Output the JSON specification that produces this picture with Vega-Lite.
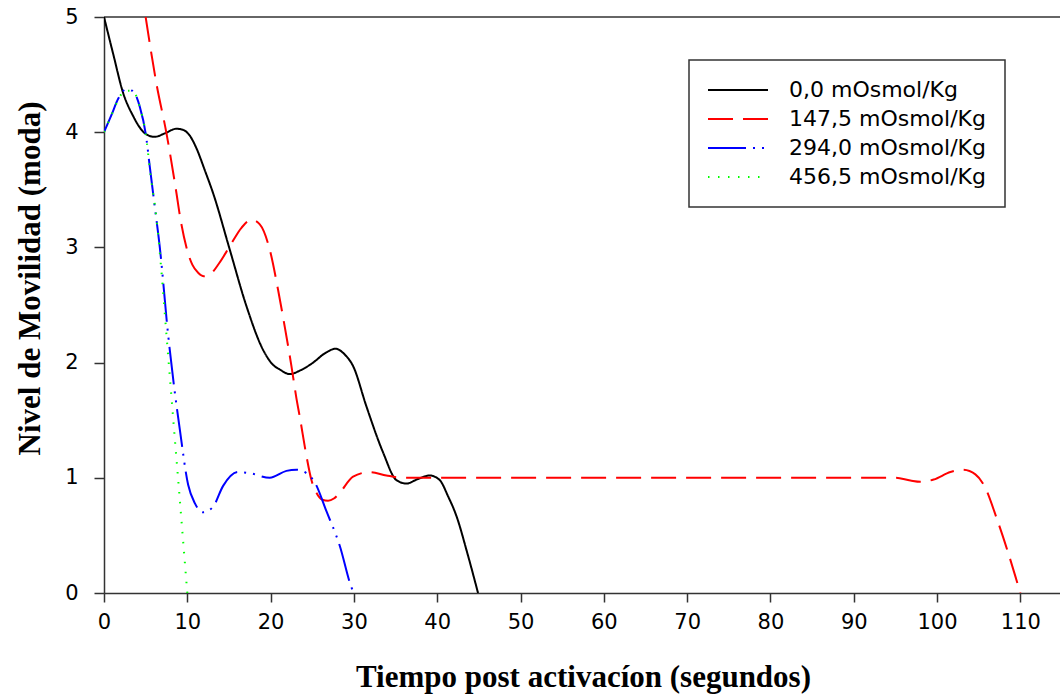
{
  "$schema": "https://vega.github.io/schema/vega-lite/v6.json",
  "width": 958,
  "height": 576,
  "autosize": {"type": "none"},
  "padding": {"left": 104, "top": 17, "right": 0, "bottom": 101},
  "background": "white",
  "config": {
    "view": {"stroke": null},
    "font": "DejaVu Sans",
    "axis": {
      "grid": false,
      "domainColor": "#333333",
      "domainWidth": 1.5,
      "tickColor": "#333333",
      "tickWidth": 1.5,
      "labelFont": "DejaVu Sans",
      "labelFontSize": 21,
      "labelColor": "#000000",
      "labelFlush": false,
      "labelOverlap": false,
      "titleFont": "Liberation Serif",
      "titleFontWeight": "bold",
      "titleFontSize": 31,
      "titleColor": "#000000"
    },
    "legend": {
      "orient": "none",
      "legendX": 585,
      "legendY": 43,
      "padding": 19,
      "strokeColor": "#333333",
      "strokeWidth": 1.5,
      "fillColor": "white",
      "symbolType": "M-3,0H3",
      "symbolSize": 400,
      "symbolStrokeWidth": 2,
      "symbolOffset": 19,
      "labelOffset": 40,
      "rowPadding": 7,
      "labelLimit": 600,
      "labelFont": "DejaVu Sans",
      "labelFontSize": 22,
      "labelColor": "#000000"
    }
  },
  "layer": [
    {
      "data": {"values": [{}]},
      "mark": {"type": "rule", "color": "#333333", "strokeWidth": 1.5},
      "encoding": {"y": {"datum": 5, "type": "quantitative"}}
    },
    {
      "data": {
        "values": [
          {"s": "0,0 mOsmol/Kg", "t": 0, "v": 5},
          {"s": "0,0 mOsmol/Kg", "t": 1.1, "v": 4.68},
          {"s": "0,0 mOsmol/Kg", "t": 2.3, "v": 4.34},
          {"s": "0,0 mOsmol/Kg", "t": 3.5, "v": 4.14},
          {"s": "0,0 mOsmol/Kg", "t": 4.3, "v": 4.04},
          {"s": "0,0 mOsmol/Kg", "t": 5.1, "v": 3.98},
          {"s": "0,0 mOsmol/Kg", "t": 6.1, "v": 3.96},
          {"s": "0,0 mOsmol/Kg", "t": 7.3, "v": 3.99},
          {"s": "0,0 mOsmol/Kg", "t": 8.7, "v": 4.03},
          {"s": "0,0 mOsmol/Kg", "t": 9.5, "v": 4.02},
          {"s": "0,0 mOsmol/Kg", "t": 10.3, "v": 3.97},
          {"s": "0,0 mOsmol/Kg", "t": 11.1, "v": 3.86},
          {"s": "0,0 mOsmol/Kg", "t": 12.1, "v": 3.67},
          {"s": "0,0 mOsmol/Kg", "t": 13.1, "v": 3.47},
          {"s": "0,0 mOsmol/Kg", "t": 15.1, "v": 2.98},
          {"s": "0,0 mOsmol/Kg", "t": 17.1, "v": 2.49},
          {"s": "0,0 mOsmol/Kg", "t": 19.1, "v": 2.11},
          {"s": "0,0 mOsmol/Kg", "t": 20.3, "v": 1.98},
          {"s": "0,0 mOsmol/Kg", "t": 21.1, "v": 1.94},
          {"s": "0,0 mOsmol/Kg", "t": 22.3, "v": 1.9},
          {"s": "0,0 mOsmol/Kg", "t": 23.5, "v": 1.93},
          {"s": "0,0 mOsmol/Kg", "t": 25.1, "v": 2.0},
          {"s": "0,0 mOsmol/Kg", "t": 26.5, "v": 2.08},
          {"s": "0,0 mOsmol/Kg", "t": 27.8, "v": 2.12},
          {"s": "0,0 mOsmol/Kg", "t": 28.9, "v": 2.07},
          {"s": "0,0 mOsmol/Kg", "t": 29.9, "v": 1.97},
          {"s": "0,0 mOsmol/Kg", "t": 31.5, "v": 1.62},
          {"s": "0,0 mOsmol/Kg", "t": 33.5, "v": 1.22},
          {"s": "0,0 mOsmol/Kg", "t": 35.1, "v": 0.98},
          {"s": "0,0 mOsmol/Kg", "t": 36.3, "v": 0.95},
          {"s": "0,0 mOsmol/Kg", "t": 37.7, "v": 0.99},
          {"s": "0,0 mOsmol/Kg", "t": 39.1, "v": 1.02},
          {"s": "0,0 mOsmol/Kg", "t": 40.3, "v": 0.98},
          {"s": "0,0 mOsmol/Kg", "t": 41.3, "v": 0.84},
          {"s": "0,0 mOsmol/Kg", "t": 42.3, "v": 0.67},
          {"s": "0,0 mOsmol/Kg", "t": 43.6, "v": 0.35},
          {"s": "0,0 mOsmol/Kg", "t": 44.9, "v": 0},

          {"s": "147,5 mOsmol/Kg", "t": 5.0, "v": 5.0},
          {"s": "147,5 mOsmol/Kg", "t": 6.3, "v": 4.42},
          {"s": "147,5 mOsmol/Kg", "t": 7.5, "v": 3.99},
          {"s": "147,5 mOsmol/Kg", "t": 8.7, "v": 3.47},
          {"s": "147,5 mOsmol/Kg", "t": 9.1, "v": 3.28},
          {"s": "147,5 mOsmol/Kg", "t": 9.9, "v": 3.0},
          {"s": "147,5 mOsmol/Kg", "t": 10.6, "v": 2.85},
          {"s": "147,5 mOsmol/Kg", "t": 11.3, "v": 2.78},
          {"s": "147,5 mOsmol/Kg", "t": 12.0, "v": 2.75},
          {"s": "147,5 mOsmol/Kg", "t": 12.8, "v": 2.77},
          {"s": "147,5 mOsmol/Kg", "t": 13.8, "v": 2.86},
          {"s": "147,5 mOsmol/Kg", "t": 15.1, "v": 3.01},
          {"s": "147,5 mOsmol/Kg", "t": 16.5, "v": 3.17},
          {"s": "147,5 mOsmol/Kg", "t": 17.7, "v": 3.24},
          {"s": "147,5 mOsmol/Kg", "t": 18.7, "v": 3.2},
          {"s": "147,5 mOsmol/Kg", "t": 19.9, "v": 2.98},
          {"s": "147,5 mOsmol/Kg", "t": 20.9, "v": 2.63},
          {"s": "147,5 mOsmol/Kg", "t": 21.7, "v": 2.31},
          {"s": "147,5 mOsmol/Kg", "t": 22.5, "v": 1.97},
          {"s": "147,5 mOsmol/Kg", "t": 23.1, "v": 1.69},
          {"s": "147,5 mOsmol/Kg", "t": 23.5, "v": 1.53},
          {"s": "147,5 mOsmol/Kg", "t": 24.3, "v": 1.19},
          {"s": "147,5 mOsmol/Kg", "t": 24.9, "v": 0.98},
          {"s": "147,5 mOsmol/Kg", "t": 25.5, "v": 0.87},
          {"s": "147,5 mOsmol/Kg", "t": 26.2, "v": 0.81},
          {"s": "147,5 mOsmol/Kg", "t": 26.9, "v": 0.8},
          {"s": "147,5 mOsmol/Kg", "t": 27.6, "v": 0.82},
          {"s": "147,5 mOsmol/Kg", "t": 28.3, "v": 0.87},
          {"s": "147,5 mOsmol/Kg", "t": 29.9, "v": 1.01},
          {"s": "147,5 mOsmol/Kg", "t": 31.9, "v": 1.05},
          {"s": "147,5 mOsmol/Kg", "t": 33.9, "v": 1.02},
          {"s": "147,5 mOsmol/Kg", "t": 36, "v": 1.0},
          {"s": "147,5 mOsmol/Kg", "t": 50, "v": 1.0},
          {"s": "147,5 mOsmol/Kg", "t": 70, "v": 1.0},
          {"s": "147,5 mOsmol/Kg", "t": 95, "v": 1.0},
          {"s": "147,5 mOsmol/Kg", "t": 96.8, "v": 0.976},
          {"s": "147,5 mOsmol/Kg", "t": 98, "v": 0.965},
          {"s": "147,5 mOsmol/Kg", "t": 99.6, "v": 0.985},
          {"s": "147,5 mOsmol/Kg", "t": 101.6, "v": 1.05},
          {"s": "147,5 mOsmol/Kg", "t": 103.1, "v": 1.07},
          {"s": "147,5 mOsmol/Kg", "t": 104.6, "v": 1.03},
          {"s": "147,5 mOsmol/Kg", "t": 105.6, "v": 0.94},
          {"s": "147,5 mOsmol/Kg", "t": 107.2, "v": 0.64},
          {"s": "147,5 mOsmol/Kg", "t": 108.4, "v": 0.38},
          {"s": "147,5 mOsmol/Kg", "t": 110, "v": 0},

          {"s": "294,0 mOsmol/Kg", "t": 0, "v": 4.0},
          {"s": "294,0 mOsmol/Kg", "t": 0.9, "v": 4.15},
          {"s": "294,0 mOsmol/Kg", "t": 1.7, "v": 4.29},
          {"s": "294,0 mOsmol/Kg", "t": 2.6, "v": 4.37},
          {"s": "294,0 mOsmol/Kg", "t": 3.4, "v": 4.36},
          {"s": "294,0 mOsmol/Kg", "t": 4.3, "v": 4.22},
          {"s": "294,0 mOsmol/Kg", "t": 5.0, "v": 3.99},
          {"s": "294,0 mOsmol/Kg", "t": 5.5, "v": 3.7},
          {"s": "294,0 mOsmol/Kg", "t": 6.1, "v": 3.35},
          {"s": "294,0 mOsmol/Kg", "t": 6.7, "v": 3.0},
          {"s": "294,0 mOsmol/Kg", "t": 7.7, "v": 2.24},
          {"s": "294,0 mOsmol/Kg", "t": 8.4, "v": 1.8},
          {"s": "294,0 mOsmol/Kg", "t": 9.1, "v": 1.42},
          {"s": "294,0 mOsmol/Kg", "t": 10.1, "v": 0.94},
          {"s": "294,0 mOsmol/Kg", "t": 10.9, "v": 0.78},
          {"s": "294,0 mOsmol/Kg", "t": 11.9, "v": 0.7},
          {"s": "294,0 mOsmol/Kg", "t": 13.1, "v": 0.75},
          {"s": "294,0 mOsmol/Kg", "t": 14.3, "v": 0.93},
          {"s": "294,0 mOsmol/Kg", "t": 16.1, "v": 1.05},
          {"s": "294,0 mOsmol/Kg", "t": 17.5, "v": 1.04},
          {"s": "294,0 mOsmol/Kg", "t": 19.9, "v": 1.0},
          {"s": "294,0 mOsmol/Kg", "t": 21.9, "v": 1.06},
          {"s": "294,0 mOsmol/Kg", "t": 23.1, "v": 1.07},
          {"s": "294,0 mOsmol/Kg", "t": 24.3, "v": 1.04},
          {"s": "294,0 mOsmol/Kg", "t": 25.3, "v": 0.96},
          {"s": "294,0 mOsmol/Kg", "t": 26.7, "v": 0.71},
          {"s": "294,0 mOsmol/Kg", "t": 28.3, "v": 0.41},
          {"s": "294,0 mOsmol/Kg", "t": 29.7, "v": 0.05},
          {"s": "294,0 mOsmol/Kg", "t": 30.0, "v": 0},

          {"s": "456,5 mOsmol/Kg", "t": 0, "v": 4.0},
          {"s": "456,5 mOsmol/Kg", "t": 0.9, "v": 4.15},
          {"s": "456,5 mOsmol/Kg", "t": 1.7, "v": 4.28},
          {"s": "456,5 mOsmol/Kg", "t": 2.5, "v": 4.36},
          {"s": "456,5 mOsmol/Kg", "t": 3.4, "v": 4.36},
          {"s": "456,5 mOsmol/Kg", "t": 4.3, "v": 4.22},
          {"s": "456,5 mOsmol/Kg", "t": 5.0, "v": 3.99},
          {"s": "456,5 mOsmol/Kg", "t": 5.6, "v": 3.62},
          {"s": "456,5 mOsmol/Kg", "t": 6.3, "v": 3.25},
          {"s": "456,5 mOsmol/Kg", "t": 7.0, "v": 2.7},
          {"s": "456,5 mOsmol/Kg", "t": 7.5, "v": 2.24},
          {"s": "456,5 mOsmol/Kg", "t": 8.0, "v": 1.79},
          {"s": "456,5 mOsmol/Kg", "t": 8.5, "v": 1.34},
          {"s": "456,5 mOsmol/Kg", "t": 9.0, "v": 0.9},
          {"s": "456,5 mOsmol/Kg", "t": 9.5, "v": 0.45},
          {"s": "456,5 mOsmol/Kg", "t": 10.0, "v": 0}
        ]
      },
      "mark": {"type": "line", "interpolate": "monotone", "strokeWidth": 2, "clip": true},
      "encoding": {
        "x": {
          "field": "t",
          "type": "quantitative",
          "scale": {"domain": [0, 115], "nice": false, "zero": false},
          "axis": {
            "values": [0, 10, 20, 30, 40, 50, 60, 70, 80, 90, 100, 110],
            "format": "d",
            "tickSize": 9,
            "labelPadding": 9,
            "title": "Tiempo post activacíon (segundos)",
            "titleBaseline": "alphabetic",
            "titleY": 93
          }
        },
        "y": {
          "field": "v",
          "type": "quantitative",
          "scale": {"domain": [0, 5], "nice": false},
          "axis": {
            "values": [0, 1, 2, 3, 4, 5],
            "format": "d",
            "tickSize": 10,
            "labelPadding": 16,
            "title": "Nivel de Movilidad (moda)",
            "titleAngle": 270,
            "titleAlign": "center",
            "titleBaseline": "middle",
            "titleX": -74,
            "titleY": 261
          }
        },
        "color": {
          "field": "s",
          "type": "nominal",
          "scale": {
            "domain": ["0,0 mOsmol/Kg", "147,5 mOsmol/Kg", "294,0 mOsmol/Kg", "456,5 mOsmol/Kg"],
            "range": ["#000000", "#ff0000", "#0000ff", "#00ff00"]
          },
          "legend": {"title": null}
        },
        "strokeDash": {
          "field": "s",
          "type": "nominal",
          "scale": {
            "domain": ["0,0 mOsmol/Kg", "147,5 mOsmol/Kg", "294,0 mOsmol/Kg", "456,5 mOsmol/Kg"],
            "range": [[1, 0], [25, 10], [38, 7, 2, 7, 2, 7], [1.5, 8.5]]
          },
          "legend": {"title": null}
        }
      }
    }
  ]
}
